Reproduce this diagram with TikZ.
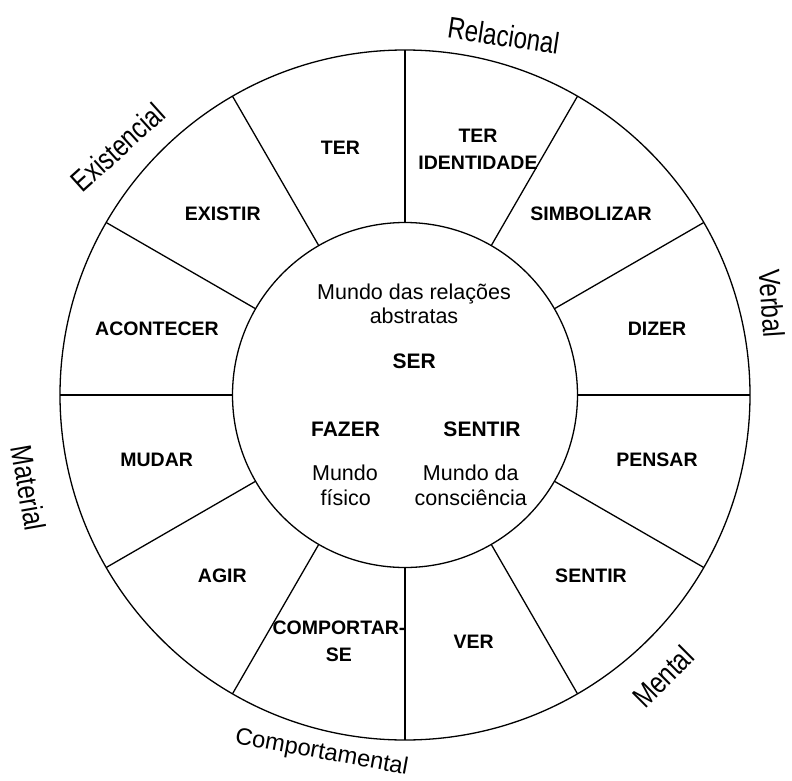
\documentclass[tikz,border=0pt]{standalone}
\usepackage{fontspec}
\setmainfont{Liberation Sans}
\newfontfamily\narrowfont[FakeStretch=0.8]{Liberation Sans}
\begin{document}
\begin{tikzpicture}[x=1pt,y=1pt,line width=1.3pt,
  seg/.style={font=\fontsize{19.5}{27}\selectfont\bfseries,align=center,inner sep=0pt},
  core/.style={font=\fontsize{21}{24}\selectfont\bfseries,inner sep=0pt},
  world/.style={font=\fontsize{21.5}{25}\selectfont,inner sep=0pt,anchor=base},
  process/.style={font=\narrowfont\fontsize{30}{32}\selectfont,inner sep=0pt,anchor=base},
  ring/.style={circle,draw,inner sep=0pt,outer sep=0pt}]
\useasboundingbox (-405,-385) rectangle (387,395);
\coordinate (C) at (0,0);
\node[ring,minimum size=690] (outer) at (C) {};
\node[ring,minimum size=345] (inner) at (C) {};
\foreach \a in {0,30,...,330} \draw (inner.\a) -- (outer.\a);
% segment labels
\node[seg] (ter) at (-64.5,247.5) {TER};
\node[seg] (existir) at (-182.3,181.7) {EXISTIR};
\node[seg] (acontecer) at (-248,66) {ACONTECER};
\node[seg] (mudar) at (-248.3,-64.5) {MUDAR};
\node[seg] (agir) at (-182.7,-180.8) {AGIR};
\node[seg] (comportar) at (-66,-245.8) {COMPORTAR-\\SE};
\node[seg] (ver) at (68.7,-247) {VER};
\node[seg] (sentirm) at (186,-180.8) {SENTIR};
\node[seg] (pensar) at (252,-65) {PENSAR};
\node[seg] (dizer) at (252,66) {DIZER};
\node[seg] (simbolizar) at (186,181.7) {SIMBOLIZAR};
\node[seg] (teriden) at (73,246) {TER\\IDENTIDADE};
% inner circle
\node[world] (mundo1a) at (9,95.7) {Mundo das relações};
\node[world] (mundo1b) at (9,71.7) {abstratas};
\node[core] (ser) at (9.3,34.2) {SER};
\node[core] (fazer) at (-59.5,-34) {FAZER};
\node[world] (mundo2a) at (-60,-85) {Mundo};
\node[world] (mundo2b) at (-59.2,-110) {físico};
\node[core] (sentir) at (77,-34) {SENTIR};
\node[world] (mundo3a) at (65.8,-85) {Mundo da};
\node[world] (mundo3b) at (65.8,-110) {consciência};
% process types
\node[process,rotate=-8.6] (relacional) at (97,348.8) {Relacional};
\node[process,rotate=42] (existencial) at (-280,240) {Existencial};
\node[process,rotate=-86] (verbal) at (356,91) {Verbal};
\node[process,rotate=45] (mental) at (265.5,-289.5) {Mental};
\node[process,rotate=-80] (material) at (-387,-95) {Material};
\node[inner sep=0pt,anchor=base,rotate=-10.4,font=\fontsize{23.7}{26}\selectfont] (comportamental) at (-84.5,-364) {Comportamental};
\end{tikzpicture}
\end{document}
